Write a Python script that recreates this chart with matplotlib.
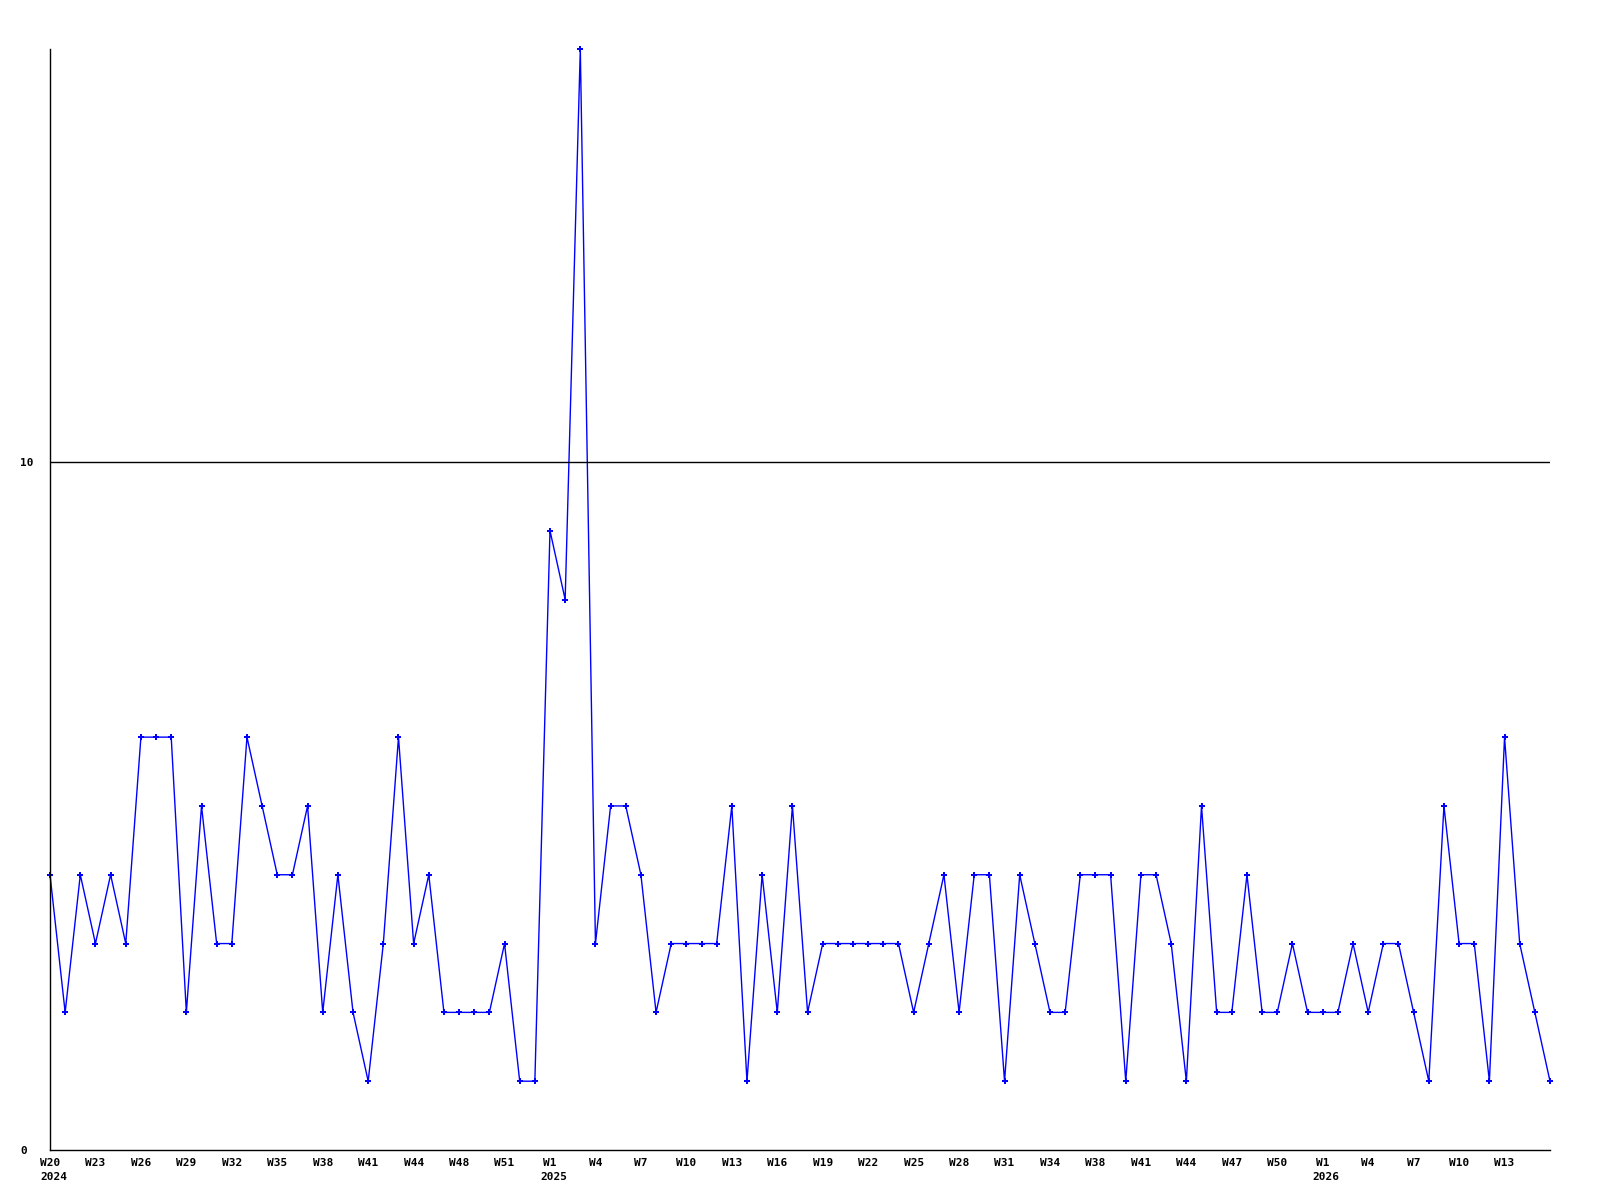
import matplotlib
matplotlib.use("Agg")
import matplotlib.pyplot as plt
import matplotlib.transforms as mtransforms

# weekly counts, 2024 W20 .. 2026 W16
values = [4, 2, 4, 3, 4, 3, 6, 6, 6, 2, 5, 3, 3, 6, 5, 4, 4, 5, 2, 4,
          2, 1, 3, 6, 3, 4, 2, 2, 2, 2, 3, 1, 1, 9, 8, 16, 3, 5, 5, 4,
          2, 3, 3, 3, 3, 5, 1, 4, 2, 5, 2, 3, 3, 3, 3, 3, 3, 2, 3, 4,
          2, 4, 4, 1, 4, 3, 2, 2, 4, 4, 4, 1, 4, 4, 3, 1, 5, 2, 2, 4,
          2, 2, 3, 2, 2, 2, 3, 2, 3, 3, 2, 1, 5, 3, 3, 1, 6, 3, 2, 1]

# labels for every third point
week_labels = ["W20", "W23", "W26", "W29", "W32", "W35", "W38", "W41", "W44",
               "W48", "W51", "W1", "W4", "W7", "W10", "W13", "W16", "W19",
               "W22", "W25", "W28", "W31", "W34", "W38", "W41", "W44", "W47",
               "W50", "W1", "W4", "W7", "W10", "W13"]
year_labels = {"2024": 0, "2025": 33, "2026": 84}

x = list(range(len(values)))
tick_pos = list(range(0, len(values), 3))[:len(week_labels)]

fig = plt.figure(figsize=(16, 12), dpi=100)
ax = fig.add_axes([50 / 1600, 1 - 1150 / 1200, 1500 / 1600, 1101 / 1200])

ax.plot(x, values, color="#0000ff", linewidth=1, marker="P", markersize=4,
        markeredgewidth=0, clip_on=False)
ax.axhline(10, color="black", linewidth=1)

ax.set_xlim(0, len(values) - 1)
ax.set_ylim(0, 16)

for side in ["top", "right"]:
    ax.spines[side].set_visible(False)
for side in ["left", "bottom"]:
    ax.spines[side].set_linewidth(1)

font = dict(family="DejaVu Sans Mono", weight="bold", size=8)

ax.set_yticks([0, 10])
ax.set_yticklabels(["0", "10"], ha="left", **font)
ax.set_xticks(tick_pos)
ax.set_xticklabels(week_labels, **font)
ax.tick_params(axis="both", length=0)
ax.tick_params(axis="x", pad=6)
ax.tick_params(axis="y", pad=21.6)

trans = mtransforms.offset_copy(ax.get_xaxis_transform(), fig=fig, x=-10, y=-27, units="dots")
for year, pos in year_labels.items():
    ax.text(pos, 0, year, transform=trans, ha="left", va="center", **font)

fig.savefig("out.png", dpi=100)
